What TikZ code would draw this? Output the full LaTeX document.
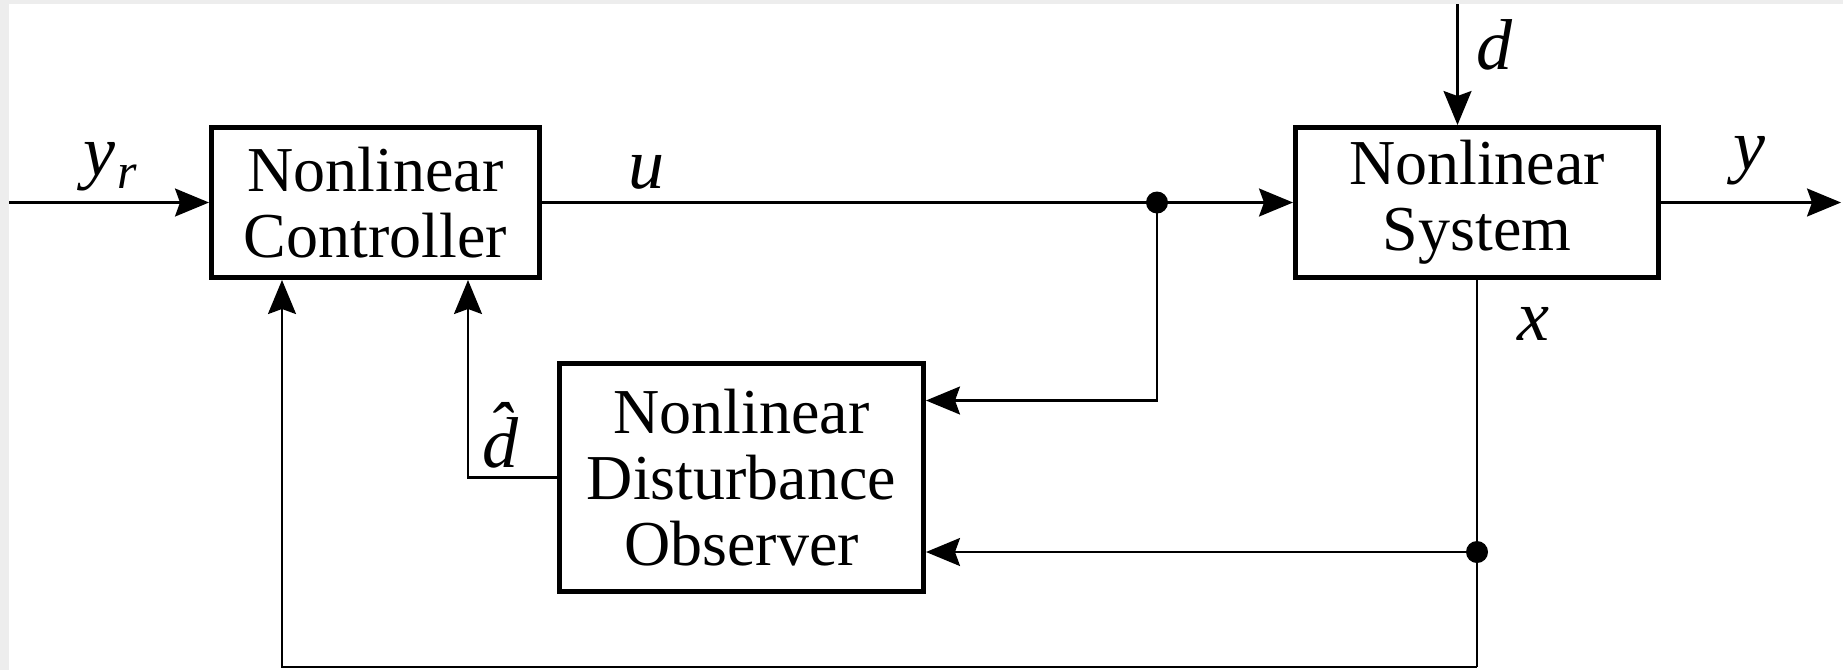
\documentclass[tikz,border=0pt]{standalone}
\usepackage{fontspec}
\setmainfont{Liberation Serif}
\usetikzlibrary{arrows.meta}
\newcommand{\bxfont}{\fontsize{64}{66}\selectfont}
\newcommand{\lbfont}{\fontsize{72}{74}\selectfont\itshape}
\begin{document}
\begin{tikzpicture}[x=1pt,y=-1pt,
  box/.style={draw, line width=5pt, inner sep=0pt, align=center, font=\bxfont},
  conn/.style={line width=2.2pt},
  arr/.style={conn, -{Stealth[length=34pt,width=28pt,inset=5pt]}},
  lab/.style={font=\lbfont, inner sep=0pt},
  junc/.style={circle, fill, inner sep=0pt, minimum size=22pt}]
\useasboundingbox (0,0) rectangle (1843,670);
\fill[black!7] (0,0) rectangle (1843,4);
\fill[black!7] (0,0) rectangle (9,670);
% blocks
\node[box, minimum width=328pt, minimum height=150pt] (ctrl) at (375.5,202.5) {Nonlinear\\Controller};
\node[box, minimum width=363pt, minimum height=150pt] (sys) at (1477,202.5) {Nonlinear\\System};
\node[box, minimum width=364pt, minimum height=228pt] (obs) at (741.5,477.5) {Nonlinear\\Disturbance\\Observer};
% junctions and free ends
\node[junc] (j1) at (1157,202.5) {};
\node[junc] (j2) at (1477,552) {};
\coordinate (in) at (9,202.5);
\coordinate (out) at (1841,202.5);
\coordinate (dtop) at (1457.5,4);
\coordinate (fb) at (1477,667);
% connectors
\draw[arr] (in) -- (ctrl.west);
\draw[conn] (ctrl.east) -- (j1.center);
\draw[arr] (j1.center) -- (sys.west);
\draw[arr] (sys.east) -- (out);
\draw[arr] (dtop) -- (dtop |- sys.north);
\draw[arr] (j1.center) |- ([yshift=77pt]obs.east);
\draw[conn] (sys.south) -- (j2.center) -- (fb);
\draw[arr] (j2.center) -- (obs.east |- j2.center);
\draw[arr] (fb) -| ([xshift=-93.5pt]ctrl.south);
\draw[arr] (obs.west) -| ([xshift=92.5pt]ctrl.south);
% labels
\node[lab] (lyr) at (110,167) {y\kern2pt\raisebox{-13pt}{\fontsize{50}{50}\selectfont r}};
\node[lab] (lu) at (646,172) {u};
\node[lab] (ld) at (1494,44.5) {d};
\node[lab] (ly) at (1749,161) {y};
\node[lab] (lx) at (1533,324) {x};
\node[lab] (ldh) at (500,435) {\^{d}};
\end{tikzpicture}
\end{document}
